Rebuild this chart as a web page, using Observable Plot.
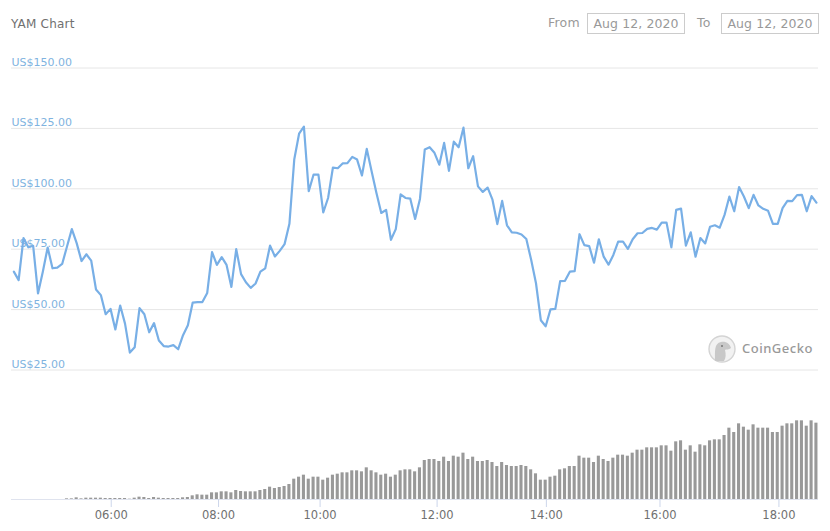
<!DOCTYPE html>
<html>
<head>
<meta charset="utf-8">
<script src="https://cdn.jsdelivr.net/npm/d3@7"></script>
<script src="https://cdn.jsdelivr.net/npm/@observablehq/plot@0.6"></script>
<style>
  html,body{margin:0;padding:0;background:#fff;}
  body{width:830px;height:531px;position:relative;overflow:hidden;font-family:"DejaVu Sans",sans-serif;}
  .abs{position:absolute;white-space:nowrap;}
  .box{border:1px solid #ccc;box-sizing:border-box;color:#999;font-size:12.5px;height:21px;line-height:19px;text-align:center;width:98px;top:13px;letter-spacing:.1px;}
  .lab{color:#999;font-size:12.5px;top:15px;letter-spacing:.2px;}
  #price,#volume{position:absolute;left:0;}
  #price{top:0;} #volume{top:385px;}
  svg{display:block;}
</style>
</head>
<body>
<div class="abs" style="left:11px;top:17px;font-size:12px;color:#707070;letter-spacing:.2px;">YAM Chart</div>
<div class="abs lab" style="left:548px;">From</div>
<div class="abs box" style="left:587px;">Aug 12, 2020</div>
<div class="abs lab" style="left:697px;">To</div>
<div class="abs box" style="left:721px;">Aug 12, 2020</div>
<div id="price"></div>
<div id="volume"></div>
<svg class="abs" style="left:708px;top:334px;" width="28" height="30" viewBox="0 0 28 30">
  <circle cx="14" cy="15" r="13" fill="#f2f2f2" stroke="#d4d4d4" stroke-width="1.4"/>
  <path d="M7 27 C7 18 6 9 13 8 C18 7 22 10 23 14 C21 16 18 15 17 16 C18 20 18 24 16 27 Z" fill="#c8c8c8"/>
  <circle cx="14" cy="12" r="1" fill="#777"/>
</svg>
<div class="abs" style="left:742px;top:339px;font-size:13px;color:#999;font-family:'Noto Sans',sans-serif;letter-spacing:.5px;font-weight:500;">CoinGecko</div>
<script>
const priceValues = [
  65.7,62.2,79.6,75.8,76.4,56.7,65.7,75.7,67.1,67.4,68.9,76.1,83.3,77.5,70.1,72.9,70.3,58.3,56.0,48.1,
  50.3,41.8,51.7,44.2,32.2,34.4,50.6,48.1,40.6,44.4,37.2,34.9,34.7,35.3,33.6,39.4,43.5,52.9,53.1,53.1,
  56.9,73.8,68.5,71.7,68.5,59.4,75.0,64.7,61.3,59.0,60.8,65.7,67.1,76.5,72.0,74.3,77.1,85.5,112.1,122.8,
  125.7,99.0,105.9,105.9,90.2,96.2,108.8,108.5,110.5,110.6,113.2,112.1,105.5,116.5,107.3,98.3,90.0,91.3,78.9,83.3,
  97.7,96.2,95.9,87.5,95.8,116.3,117.2,114.9,110.0,119.0,107.4,119.5,117.2,125.3,108.5,113.5,101.0,98.7,100.5,95.5,
  85.4,95.0,84.9,82.0,81.8,81.1,79.2,70.6,60.9,45.6,43.1,50.1,50.3,61.8,61.9,65.7,65.9,81.2,76.7,76.3,
  69.4,79.1,71.9,68.6,72.6,78.1,78.1,75.1,79.1,81.6,81.7,83.4,83.8,83.1,86.0,86.0,75.8,91.3,91.8,76.5,
  82.0,71.9,79.6,77.4,84.3,84.9,83.9,89.2,96.8,90.7,100.7,96.8,92.0,97.5,93.1,91.7,90.9,85.5,85.5,92.0,
  95.0,94.9,97.4,97.5,90.7,97.0,94.3
];
const volumeValues = [
  0,0,0,0,0,0,0,0,0,0,0,2,2,5,2,4,4,4,4,3,
  3,3,3,3,1,4,7,6,3,6,4,3,3,3,3,5,6,11,14,13,
  13,20,20,23,23,20,27,24,23,23,23,27,30,37,33,36,39,45,61,67,
  73,61,67,67,58,64,73,76,80,80,86,86,83,95,86,80,73,76,67,73,
  86,89,89,83,95,117,120,120,114,127,114,130,127,139,120,127,114,114,117,111,
  99,111,102,99,99,102,99,89,77,58,58,67,70,89,92,99,99,130,124,124,
  111,130,120,114,124,133,133,130,139,148,148,155,155,155,161,161,145,173,176,148,
  161,142,164,161,176,179,179,192,214,201,227,217,208,224,214,214,214,201,201,220,
  227,227,236,236,220,236,229
];
const yTicks = [25,50,75,100,125,150];
const tickPositions = [20,42.2,63.2,87.4,110,133.5,158.1];
const tickLabels = ["06:00","08:00","10:00","12:00","14:00","16:00","18:00"];
const xDomain = [-0.48,166.43];

const priceChart = Plot.plot({
  width:830,height:385,
  marginLeft:11,marginRight:12,marginTop:67.5,marginBottom:15.5,
  style:{background:"transparent",fontFamily:"'DejaVu Sans',sans-serif",overflow:"visible"},
  x:{domain:xDomain,axis:null},
  y:{domain:[25,150],axis:null},
  marks:[
    Plot.ruleY(yTicks,{y:d=>d,stroke:"#e6e6e6",strokeWidth:1}),
    Plot.text(yTicks,{y:d=>d,text:d=>"US$"+d.toFixed(2),frameAnchor:"left",textAnchor:"start",dy:-5.5,fill:"#7fb3e0",fontSize:11}),
    Plot.line(priceValues,{x:(d,i)=>i,y:d=>d,stroke:"#78afe6",strokeWidth:2.2,curve:"linear"})
  ]
});
document.getElementById("price").appendChild(priceChart);

const volumeChart = Plot.plot({
  width:830,height:146,
  marginLeft:11,marginRight:12,marginTop:14,marginBottom:32,
  style:{background:"transparent",fontFamily:"'DejaVu Sans',sans-serif",overflow:"visible"},
  x:{domain:xDomain,axis:null},
  y:{domain:[0,300],axis:null},
  marks:[
    Plot.rectY(volumeValues,{x1:(d,i)=>i-0.32,x2:(d,i)=>i+0.32,y1:0,y2:d=>d,fill:"#999",inset:0}),
    Plot.ruleY([0],{stroke:"#dfe3ee",strokeWidth:1}),
    Plot.axisX(tickPositions,{tickFormat:(d,i)=>tickLabels[i],tickSize:8,tickPadding:3,stroke:"#ccd6eb",fill:"#707070",fontSize:11.5,dx:0.7})
  ]
});
document.getElementById("volume").appendChild(volumeChart);
</script>
</body>
</html>
